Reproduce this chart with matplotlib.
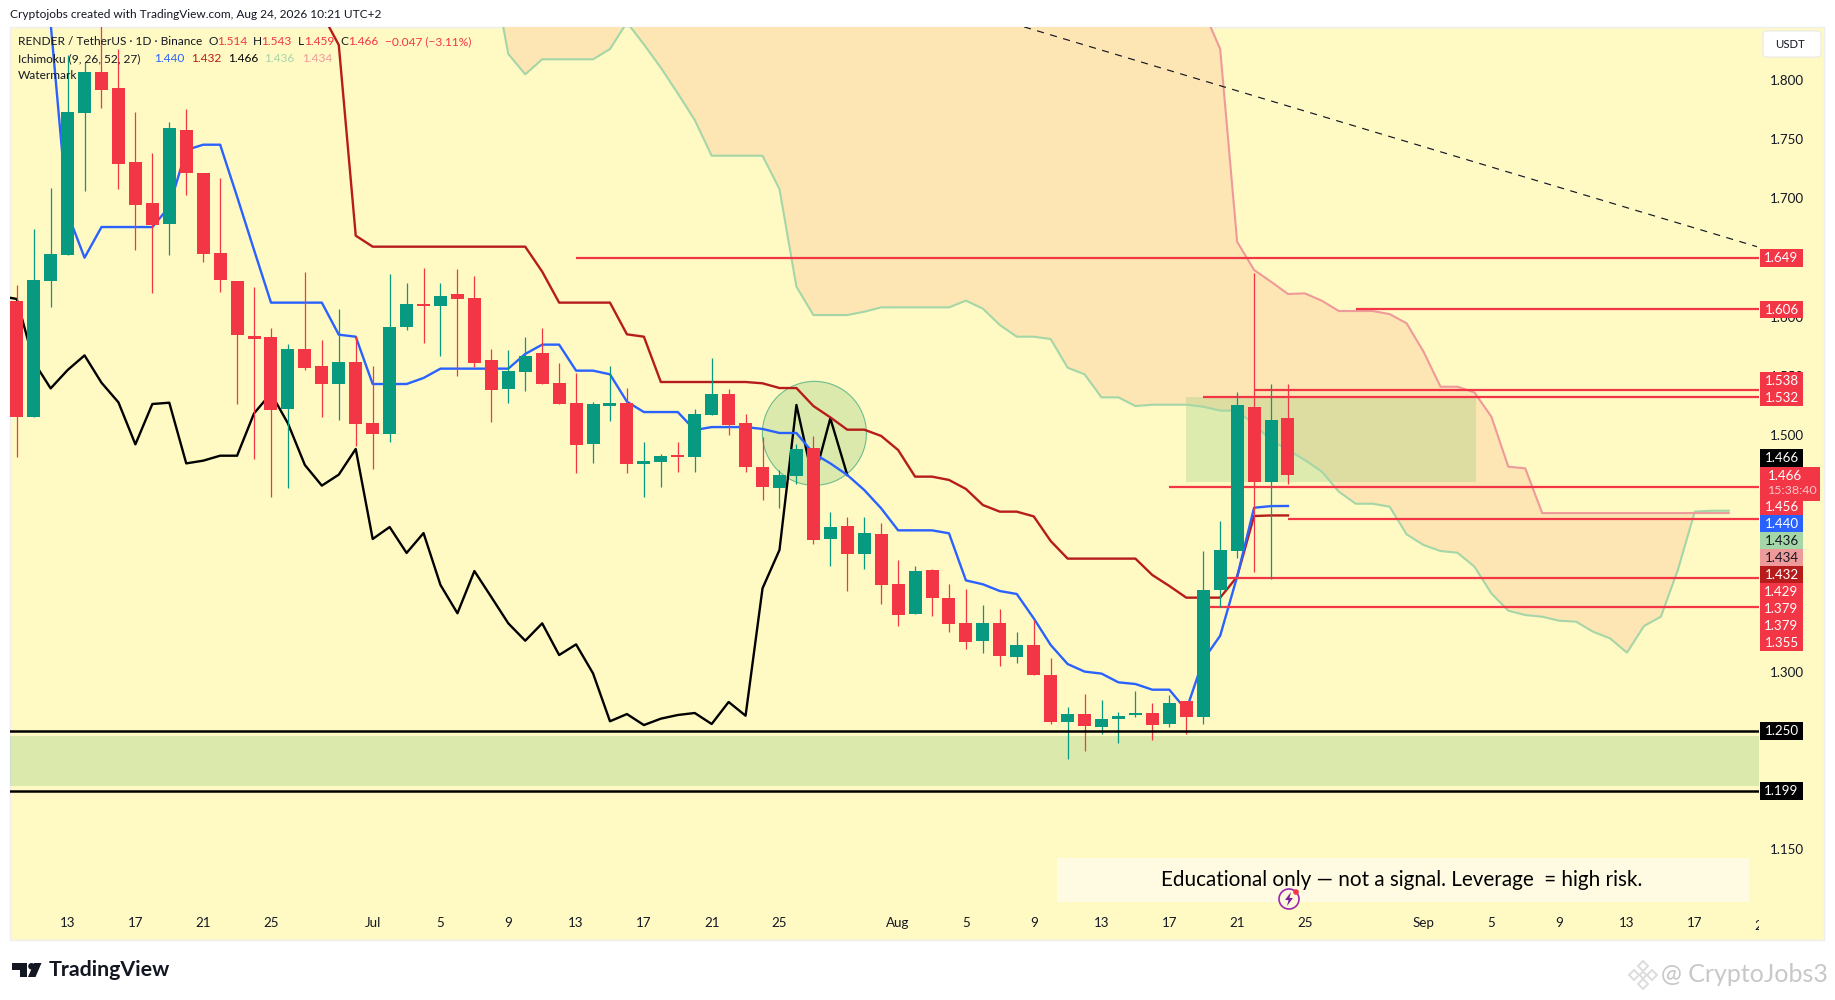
import numpy as np
import matplotlib
matplotlib.use("Agg")
from matplotlib import pyplot as plt
from matplotlib.patches import Rectangle, Ellipse, Polygon, Circle, FancyBboxPatch

# bars, first one is 10 Jun (13 Jun = index 0)
first_bar = -3
opens = [1.6133, 1.5155, 1.6302, 1.6524, 1.7725, 1.8068, 1.7933, 1.7308, 1.6961, 1.6786,
         1.7578, 1.7215, 1.6538, 1.6302, 1.5834, 1.5825, 1.5223, 1.5727, 1.5583, 1.5434,
         1.5617, 1.5101, 1.5011, 1.5913, 1.6107, 1.6093, 1.6192, 1.6158, 1.5634, 1.5389,
         1.5533, 1.5693, 1.5439, 1.5270, 1.4924, 1.5248, 1.5270, 1.4755, 1.4772, 1.4831,
         1.4814, 1.5169, 1.5347, 1.5101, 1.4729, 1.4552, 1.4653, 1.4890, 1.4121, 1.4231,
         1.3994, 1.4163, 1.3740, 1.3487, 1.3859, 1.3622, 1.3411, 1.3259, 1.3411, 1.3123,
         1.3225, 1.2971, 1.2574, 1.2642, 1.2532, 1.2599, 1.2633, 1.2650, 1.2557, 1.2751,
         1.2616, 1.3689, 1.4019, 1.5236, 1.4605, 1.514]
highs = [1.6268, 1.6741, 1.7085, 1.8212, 1.8156, 1.8500, 1.8260, 1.7730, 1.7381, 1.7646,
         1.7756, 1.7215, 1.7172, 1.6302, 1.6248, 1.5901, 1.5766, 1.6378, 1.5803, 1.6065,
         1.5837, 1.5583, 1.6361, 1.6285, 1.6412, 1.6285, 1.6403, 1.6344, 1.5727, 1.5718,
         1.5828, 1.5904, 1.5609, 1.5524, 1.5279, 1.5583, 1.5397, 1.4941, 1.4839, 1.4941,
         1.5220, 1.5651, 1.5389, 1.5178, 1.4983, 1.4704, 1.4924, 1.4992, 1.4349, 1.4307,
         1.4307, 1.4256, 1.3943, 1.3893, 1.3867, 1.3740, 1.3698, 1.3563, 1.3529, 1.3335,
         1.3436, 1.3115, 1.2701, 1.2811, 1.2760, 1.2659, 1.2836, 1.2734, 1.2802, 1.2751,
         1.4019, 1.4273, 1.5363, 1.6369, 1.5431, 1.543]
lows = [1.4817, 1.5155, 1.6085, 1.6524, 1.7065, 1.7767, 1.7079, 1.6564, 1.6203, 1.6521,
        1.7029, 1.6465, 1.6211, 1.5265, 1.4797, 1.4479, 1.4555, 1.5549, 1.5155, 1.5127,
        1.4907, 1.4715, 1.4941, 1.5887, 1.5778, 1.5668, 1.5499, 1.5578, 1.5110, 1.5270,
        1.5372, 1.5431, 1.5262, 1.4679, 1.4763, 1.5118, 1.4682, 1.4479, 1.4560, 1.4687,
        1.4687, 1.5169, 1.5000, 1.4687, 1.4451, 1.4383, 1.4586, 1.4079, 1.3893, 1.3681,
        1.3867, 1.3571, 1.3385, 1.3487, 1.3470, 1.3335, 1.3191, 1.3157, 1.3047, 1.3073,
        1.2971, 1.2557, 1.2261, 1.2329, 1.2472, 1.2396, 1.2616, 1.2422, 1.2532, 1.2472,
        1.2557, 1.3549, 1.3963, 1.3844, 1.3782, 1.459]
closes = [1.5155, 1.6310, 1.6530, 1.7730, 1.8068, 1.7919, 1.7294, 1.6947, 1.6775, 1.7595,
          1.7217, 1.6533, 1.6313, 1.5848, 1.5811, 1.5214, 1.5727, 1.5566, 1.5434, 1.5617,
          1.5096, 1.5011, 1.5913, 1.6107, 1.6093, 1.6175, 1.6150, 1.5609, 1.5380, 1.5541,
          1.5668, 1.5431, 1.5262, 1.4915, 1.5262, 1.5270, 1.4755, 1.4780, 1.4822, 1.4814,
          1.5178, 1.5347, 1.5084, 1.4729, 1.4560, 1.4662, 1.4882, 1.4112, 1.4222, 1.3994,
          1.4172, 1.3732, 1.3478, 1.3850, 1.3622, 1.3402, 1.3250, 1.3411, 1.3132, 1.3225,
          1.2971, 1.2574, 1.2642, 1.2540, 1.2599, 1.2625, 1.2650, 1.2549, 1.2734, 1.2616,
          1.3690, 1.4028, 1.5253, 1.4605, 1.5126, 1.466]

# ichimoku
tenkan_start = -1
tenkan = [1.848, 1.6874, 1.6499, 1.6758, 1.6758, 1.6758, 1.6758, 1.693, 1.7409, 1.7454,
          1.7454, 1.7015, 1.6564, 1.6119, 1.6119, 1.6119, 1.6119, 1.5848, 1.5831, 1.5431,
          1.5431, 1.5431, 1.5482, 1.5561, 1.5561, 1.5561, 1.5561, 1.5561, 1.5685, 1.5764,
          1.5764, 1.5544, 1.5544, 1.5513, 1.5282, 1.5194, 1.5194, 1.5194, 1.5042, 1.5067,
          1.5067, 1.5067, 1.5051, 1.5017, 1.5017, 1.4845, 1.4760, 1.4662, 1.4535, 1.4380,
          1.4194, 1.4194, 1.4194, 1.4169, 1.3771, 1.3738, 1.3681, 1.3656, 1.3450, 1.3225,
          1.3064, 1.3000, 1.2983, 1.2909, 1.2895, 1.2847, 1.2847, 1.2675, 1.3098, 1.3303,
          1.3802, 1.4385, 1.4399, 1.440]
kijun_start = 15
kijun = [1.8564, 1.8297, 1.6685, 1.6592, 1.6592, 1.6592, 1.6592, 1.6592, 1.6592, 1.6592,
         1.6592, 1.6592, 1.6592, 1.6381, 1.6119, 1.6119, 1.6119, 1.6119, 1.5851, 1.5831,
         1.5448, 1.5448, 1.5448, 1.5448, 1.5448, 1.5448, 1.5437, 1.5397, 1.5397, 1.5245,
         1.5149, 1.5045, 1.5045, 1.4992, 1.4873, 1.4648, 1.4648, 1.4620, 1.4544, 1.4408,
         1.4352, 1.4352, 1.4312, 1.4104, 1.3955, 1.3955, 1.3955, 1.3955, 1.3955, 1.3816,
         1.3724, 1.3625, 1.3625, 1.3625, 1.3802, 1.4315, 1.432, 1.432]
chikou_start = -4
chikou = [1.6175, 1.6150, 1.5620, 1.5394, 1.5549, 1.5673, 1.5442, 1.5276, 1.4921, 1.5262,
          1.5273, 1.4760, 1.4783, 1.4825, 1.4825, 1.5183, 1.5352, 1.5098, 1.4746, 1.4572,
          1.4665, 1.4882, 1.4121, 1.4222, 1.4003, 1.4171, 1.3732, 1.3493, 1.3850, 1.3630,
          1.3408, 1.3261, 1.3408, 1.3140, 1.3230, 1.2985, 1.2580, 1.2641, 1.2548, 1.2602,
          1.2633, 1.2650, 1.2557, 1.2743, 1.2627, 1.3704, 1.4028, 1.5254, 1.4606, 1.5141,
          1.4662]
cloud_start = 25
senkou_a = [1.8987, 1.8221, 1.8049, 1.8176, 1.8176, 1.8176, 1.8176, 1.8263, 1.8488, 1.8302,
            1.8105, 1.7888, 1.7663, 1.7361, 1.7361, 1.7361, 1.7361, 1.7079, 1.6254, 1.6014,
            1.6014, 1.6014, 1.6042, 1.6079, 1.6079, 1.6079, 1.6079, 1.6079, 1.6136, 1.6068,
            1.5930, 1.5831, 1.5831, 1.5811, 1.5569, 1.5513, 1.5318, 1.5318, 1.5245, 1.5256,
            1.5256, 1.5256, 1.5239, 1.5206, 1.5205, 1.5090, 1.4957, 1.4873, 1.4788, 1.4690,
            1.4521, 1.4419, 1.4419, 1.4394, 1.4160, 1.4070, 1.4019, 1.4005, 1.3887, 1.3661,
            1.3515, 1.3478, 1.3464, 1.3430, 1.3422, 1.3337, 1.3281, 1.3160, 1.3385, 1.3464,
            1.3858, 1.4352, 1.436, 1.436]
# off the top of the chart until bar 66
senkou_b = [1.95] * 41 + [1.90, 1.8593, 1.8263, 1.6634, 1.6395, 1.6296, 1.6192, 1.6197, 1.6135,
                          1.6048, 1.6048, 1.6048, 1.6022, 1.5944, 1.5704, 1.5408, 1.5408, 1.5360,
                          1.5155, 1.4732, 1.4718, 1.434, 1.434, 1.434, 1.434, 1.434, 1.434, 1.434,
                          1.434, 1.434, 1.434, 1.434, 1.434]

# drawings
ray_prices = [1.6496, 1.6065, 1.538, 1.5324, 1.456, 1.4292, 1.3791, 1.355]
ray_starts = [30, 76, 70, 67, 65, 72, 68, 67]
support_lines = [1.250, 1.199]
support_zone = [1.2033, 1.2456]
entry_zone = [1.4605, 1.5321]
entry_bars = [66, 83.1]
circle_center = [44.06, 1.5014]
circle_size = [6.14, 0.0879]
trend_x = [56.43, 99.67]
trend_y = [1.845, 1.6592]

date_ticks = [0, 4, 8, 12, 18, 22, 26, 30, 34, 38, 42, 49, 53, 57, 61, 65, 69, 73, 80, 84, 88, 92, 96]
date_labels = ["13", "17", "21", "25", "Jul", "5", "9", "13", "17", "21", "25", "Aug", "5", "9",
               "13", "17", "21", "25", "Sep", "5", "9", "13", "17"]
price_ticks = [1.80, 1.75, 1.70, 1.60, 1.55, 1.50, 1.30, 1.15]

stack_text = ["1.538", "1.532"]
lower_text = ["1.456", "1.440", "1.436", "1.434", "1.432", "1.429", "1.379", "1.379", "1.355"]
lower_bg = ["#f23645", "#2962ff", "#a5d6a7", "#ef9a9a", "#b71c1c", "#f23645", "#f23645", "#f23645", "#f23645"]
lower_fg = ["white", "white", "#131722", "#131722", "white", "white", "white", "white", "white"]

UP = "#089981"
DOWN = "#f23645"
BG = "#fff9c4"
CLOUD = "#fde6b3"
ZONE = "#4caf50"
FONT = ["Lato", "DejaVu Sans"]
plt.rcParams["font.family"] = FONT
TXT = 9.6
LEG = 8.6

W, H = 1835, 1000
fig = plt.figure(figsize=(W / 100, H / 100), dpi=100, facecolor="white")

# pixel layers behind and in front of the price axes
back = fig.add_axes([0, 0, 1, 1], zorder=0)
front = fig.add_axes([0, 0, 1, 1], zorder=2)
for a in (back, front):
    a.set_xlim(0, W)
    a.set_ylim(H, 0)
    a.axis("off")
front.patch.set_alpha(0)

back.add_patch(Rectangle((10, 27), 1814, 913, fc=BG, ec="#eeeeee", lw=1))

LEFT, RIGHT, TOP, BOTTOM = 10, 1759, 27, 940
ax = fig.add_axes([LEFT / W, 1 - BOTTOM / H, (RIGHT - LEFT) / W, (BOTTOM - TOP) / H], zorder=1)
ax.patch.set_alpha(0)
ax.set_xlim(-3.398, 99.79)
ax.set_ylim(1.0731, 1.8449)
for s in ax.spines.values():
    s.set_visible(False)

# zones and cloud
cloud_x = np.arange(cloud_start, cloud_start + len(senkou_a))
a_arr = np.array(senkou_a)
b_arr = np.array(senkou_b)
ax.fill_between(cloud_x, a_arr, b_arr, where=a_arr <= b_arr, interpolate=True, color=CLOUD, lw=0, zorder=1)
ax.fill_between(cloud_x, a_arr, b_arr, where=a_arr >= b_arr, interpolate=True, color="#dcebb4", lw=0, zorder=1)
ax.axhspan(support_zone[0], support_zone[1], color=ZONE, alpha=0.2, lw=0, zorder=1.5)
ax.add_patch(Rectangle((entry_bars[0], entry_zone[0]), entry_bars[1] - entry_bars[0],
                       entry_zone[1] - entry_zone[0], fc=ZONE, alpha=0.18, lw=0, zorder=1.5))
ax.add_patch(Ellipse(circle_center, circle_size[0], circle_size[1], fc=(0.3, 0.69, 0.31, 0.2),
                     ec=(0.1, 0.6, 0.45, 0.6), lw=0.8, zorder=1.5))

# ichimoku lines
ax.plot(cloud_x, senkou_a, color="#a5d6a7", lw=1.5, zorder=2)
ax.plot(cloud_x, senkou_b, color="#ef9a9a", lw=1.5, zorder=2)
ax.plot(np.arange(chikou_start, chikou_start + len(chikou)), chikou, color="black", lw=1.7, zorder=2.1)
ax.plot(np.arange(kijun_start, kijun_start + len(kijun)), kijun, color="#b71c1c", lw=1.7, zorder=2.1)
ax.plot(np.arange(tenkan_start, tenkan_start + len(tenkan)), tenkan, color="#2962ff", lw=1.7, zorder=2.1)

# horizontal rays
for start, price in zip(ray_starts, ray_prices):
    ax.plot([start, 99.79], [price, price], color=DOWN, lw=1.6, zorder=2.5, solid_capstyle="butt")

# candles
bars = np.arange(first_bar, first_bar + len(opens))
o = np.array(opens)
c = np.array(closes)
colors = np.where(c >= o, UP, DOWN)
ax.vlines(bars, lows, highs, colors=colors, lw=0.9, zorder=3)
ax.bar(bars, np.abs(c - o), bottom=np.minimum(o, c), width=0.767, color=colors, lw=0, zorder=3.1)

# support lines and trend line
for price in support_lines:
    ax.axhline(price, color="black", lw=1.8, zorder=3.5)
ax.plot(trend_x, trend_y, color="#131722", lw=0.85, dashes=(6, 5.5), zorder=3.5)

# axis labels
ax.set_xticks(date_ticks, date_labels)
ax.tick_params(axis="x", length=0, pad=-16.5, labelsize=TXT, labelcolor="#131722")
ax.text(100, 1.0852, "21", fontsize=TXT, color="#131722", ha="center", va="center", clip_on=True)
ax.yaxis.tick_right()
ax.set_yticks(price_ticks, [f"{p:.3f}" for p in price_ticks])
ax.tick_params(axis="y", length=0, pad=7.5, labelsize=TXT, labelcolor="#131722")


def price_box(y, text, bg, fg="white"):
    front.add_patch(Rectangle((1760, y - 8.6), 43, 17.2, fc=bg, lw=0))
    front.text(1781.5, y, text, color=fg, fontsize=TXT, ha="center", va="center")


price_box(258, "1.649", DOWN)
price_box(309.7, "1.606", DOWN)
for i, txt in enumerate(stack_text):
    price_box(380.7 + i * 17, txt, DOWN)
price_box(458, "1.466", "black")
front.add_patch(Rectangle((1760, 467), 60, 34, fc=DOWN, lw=0))
front.text(1768, 476, "1.466", color="white", fontsize=TXT, va="center")
front.text(1768, 490, "15:38:40", color="#fbc5c9", fontsize=8.9, va="center")
for i, (txt, bg, fg) in enumerate(zip(lower_text, lower_bg, lower_fg)):
    price_box(506.7 + i * 17, txt, bg, fg)
price_box(731, "1.250", "black")
price_box(791, "1.199", "black")

# USDT button
front.add_patch(FancyBboxPatch((1765, 33), 54, 22, boxstyle="round,pad=2,rounding_size=3",
                               fc="white", ec="#e8e8e8", lw=0.8))
front.text(1790, 44.5, "USDT", fontsize=8.2, color="#131722", ha="center", va="center")

# header and legend
front.text(10, 14.7, "Cryptojobs created with TradingView.com, Aug 24, 2026 10:21 UTC+2",
           fontsize=LEG, color="#131722", va="center")
front.text(18, 41.7, "RENDER / TetherUS · 1D · Binance", fontsize=LEG, color="#131722", va="center")
for x, t in [(208, "O"), (253, "H"), (297.7, "L"), (340, "C")]:
    front.text(x, 41.7, t, fontsize=LEG, color="#131722", va="center")
for x, t in [(216.7, "1.514"), (261, "1.543"), (304.5, "1.459"), (348, "1.466"),
             (384.7, "−0.047 (−3.11%)")]:
    front.text(x, 41.7, t, fontsize=LEG, color=DOWN, va="center")
front.text(18, 58.7, "Ichimoku (9, 26, 52, 27)", fontsize=LEG, color="#131722", va="center")
for x, t, col in [(154, "1.440", "#2962ff"), (191.4, "1.432", "#b71c1c"), (228.5, "1.466", "black"),
                  (264.5, "1.436", "#a5d6a7"), (301.7, "1.434", "#ef9a9a")]:
    front.text(x, 58.7, t, fontsize=LEG, color=col, va="center")
front.text(18, 75.7, "Watermark", fontsize=LEG, color="#131722", va="center")

# note bar
front.add_patch(Rectangle((1057, 858), 692, 44, fc="#fffbe3", lw=0))
front.text(1402, 880, "Educational only — not a signal. Leverage  = high risk.", fontsize=14.85,
           color="black", ha="center", va="center")

# earnings marker
front.add_patch(Circle((1289, 899), 10, fc="#fff9dc", ec="#9c27b0", lw=1.2))
front.add_patch(Polygon([(1291, 892), (1285, 900), (1288.5, 900), (1287, 906), (1293, 898), (1289.5, 898)],
                        fc="#7b1fa2", lw=0))
front.add_patch(Circle((1296, 892), 2.8, fc="#f23645", lw=0))

# TradingView logo
logo = "#131722"
front.add_patch(Polygon([(12, 963), (27, 963), (27, 977), (20, 977), (20, 970), (12, 970)], fc=logo, lw=0))
front.add_patch(Circle((31.5, 966.3), 3.3, fc=logo, lw=0))
front.add_patch(Polygon([(34, 963), (41.5, 963), (35.5, 977), (28, 977)], fc=logo, lw=0))
front.text(49, 970, "TradingView", fontsize=15.4, fontweight="bold", color=logo, va="center")

# binance square watermark
mark = "#dcdcdc"
for dx, dy, r in [(0, -9, 5), (0, 9, 5), (-9, 0, 5), (9, 0, 5), (0, 0, 3.5)]:
    cx, cy = 1643 + dx, 975 + dy
    front.add_patch(Polygon([(cx, cy - r), (cx + r, cy), (cx, cy + r), (cx - r, cy)], fc="none", ec=mark, lw=1.4))
front.text(1661, 975, "@ CryptoJobs3", fontsize=18, color="#c8c8c8", va="center")

fig.savefig("out.png", dpi=100, facecolor="white")
